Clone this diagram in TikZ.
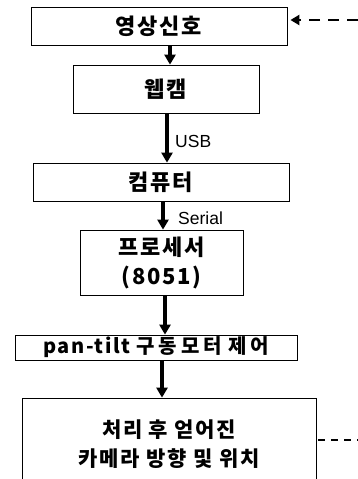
\documentclass[tikz,border=0pt]{standalone}
\usepackage{fontspec}
\setmainfont{Liberation Sans}
\newfontfamily\krfont{Noto Sans CJK KR}[LetterSpace=8]
\newfontfamily\krwidefont{Noto Sans CJK KR}[LetterSpace=20]
\usetikzlibrary{arrows.meta}

\begin{document}
\begin{tikzpicture}[x=1pt,y=-1pt,
      stagebox/.style={draw,line width=0.8pt,rectangle,inner sep=0pt,align=center,
        font=\krfont\bfseries\fontsize{22}{29}\selectfont},
      flow/.style={line width=3.5pt,-{Triangle[length=10pt,width=11pt]}},
      feedback/.style={line width=2.6pt,dash pattern=on 11pt off 8pt},
      portlabel/.style={anchor=west,inner sep=0pt,font=\fontsize{17.5}{20}\selectfont}]
    \useasboundingbox (0,0) rectangle (358,479);
    \clip (0,0) rectangle (358,479);

    % Blocks
    \node[stagebox,minimum width=256pt,minimum height=38pt] (signal)   at (159,26)    {영상신호};
    \node[stagebox,minimum width=186pt,minimum height=48pt] (webcam)   at (166,89)    {웹캠};
    \node[stagebox,minimum width=256pt,minimum height=38pt] (computer) at (161,182)   {컴퓨터};
    \node[stagebox,minimum width=163pt,minimum height=65pt] (mcu)      at (161.5,262.5) {프로세서\\(8051)};
    \node[stagebox,minimum width=282pt,minimum height=25pt,
          font=\krfont\bfseries\fontsize{20}{22}\selectfont] (motor) at (156,347.5)
          {pan-tilt\hspace{6pt}{\krwidefont\bfseries 구동모터\hspace{6pt}제어}};
    \node[stagebox,minimum width=294pt,minimum height=92pt,
          font=\krfont\bfseries\fontsize{21}{29}\selectfont]    (result)   at (169,444)   {처리 후 얻어진\\카메라 방향 및 위치};

    % Arrows
    \draw[flow] (signal.south -| 170,0)   -- (webcam.north -| 170,0);
    \draw[flow] (webcam.south -| 167,0)   -- (computer.north -| 167,0);
    \draw[flow] (computer.south -| 163,0) -- (mcu.north -| 163,0);
    \draw[flow] (mcu.south -| 165,0)      -- (motor.north -| 165,0);
    \draw[flow] (motor.south -| 162,0)    -- (result.north -| 162,0);

    \node[portlabel] (usb)    at (175,141) {USB};
    \node[portlabel] (serial) at (178,218) {Serial};

    % Feedback
    \coordinate (fbin)  at (358,20);
    \coordinate (fbout) at (358,440);
    \draw[feedback,-{Triangle[length=9pt,width=10pt]},shorten >=3pt] (fbin) -- (signal.east |- fbin);
    \draw[feedback,line width=1.8pt,dash pattern=on 7pt off 6pt] ([xshift=2pt]result.east |- fbout) -- (fbout);

  \end{tikzpicture}
\end{document}
